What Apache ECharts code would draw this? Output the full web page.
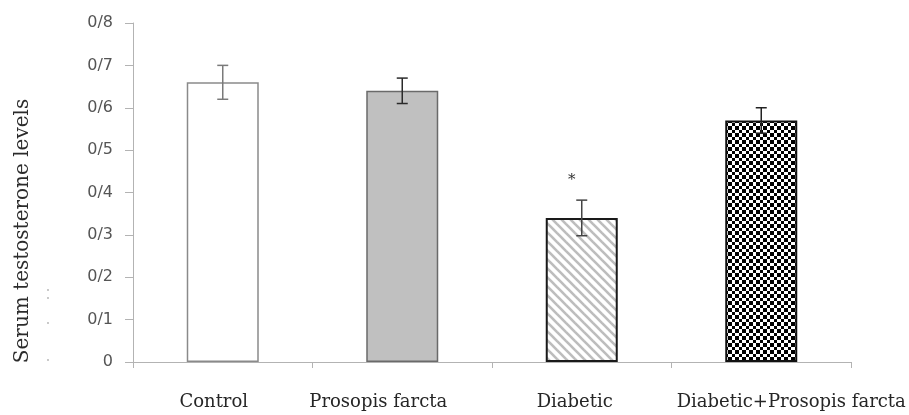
<!DOCTYPE html>
<html>
<head>
<meta charset="utf-8">
<script src="https://cdn.jsdelivr.net/npm/echarts@6/dist/echarts.min.js"></script>
<style>
  html, body { margin: 0; padding: 0; background: #fff; }
  #chart { width: 909px; height: 415px; }
</style>
</head>
<body>
<div id="chart"></div>
<script>
// data
const categories = ['Control', 'Prosopis farcta', 'Diabetic', 'Diabetic+Prosopis farcta']
const means = [0.66, 0.64, 0.34, 0.57]
const errors = [0.04, 0.03, 0.042, 0.03]
const marks = ['', '', '*', '']
const yTickLabels = ['0', '0/1', '0/2', '0/3', '0/4', '0/5', '0/6', '0/7', '0/8']

// layout / style
const labelShift = [-9, -24, -7, 30]
const borderColors = ['#8a8a8a', '#6a6a6a', '#1a1a1a', '#111111']
const errColors = ['#7a7a7a', '#2a2a2a', '#444444', '#222222']

function hatchPattern() {
  const s = 9
  const c = document.createElement('canvas')
  c.width = s
  c.height = s
  const ctx = c.getContext('2d')
  ctx.fillStyle = '#fff'
  ctx.fillRect(0, 0, s, s)
  ctx.strokeStyle = '#bdbdbd'
  ctx.lineWidth = 2.6
  for (let k = -1; k <= 1; k++) {
    ctx.beginPath()
    ctx.moveTo(k * s - 1, -1)
    ctx.lineTo(k * s + s + 1, s + 1)
    ctx.stroke()
  }
  return c
}

function checkerPattern() {
  const c = document.createElement('canvas')
  c.width = 14
  c.height = 14
  const ctx = c.getContext('2d')
  ctx.fillStyle = '#fff'
  ctx.fillRect(0, 0, 14, 14)
  ctx.fillStyle = '#000'
  const cells = [[0, 4], [4, 3], [7, 4], [11, 3]]
  for (let r = 0; r < 4; r++) {
    for (let q = 0; q < 4; q++) {
      if ((r + q) % 2 === 0) {
        ctx.fillRect(cells[q][0], cells[r][0], cells[q][1], cells[r][1])
      }
    }
  }
  return c
}

const fills = ['#ffffff', '#c0c0c0', { image: hatchPattern(), repeat: 'repeat' }, { image: checkerPattern(), repeat: 'repeat' }]

const chart = echarts.init(document.getElementById('chart'))

const option = {
  animation: false,
  backgroundColor: '#fff',
  grid: { left: 133, right: 58, top: 23, bottom: 53 },
  xAxis: {
    type: 'category',
    data: categories.map((c, i) => ({
      value: c,
      textStyle: labelShift[i] < 0
        ? { padding: [0, -2 * labelShift[i], 0, 0] }
        : { padding: [0, 0, 0, 2 * labelShift[i]] }
    })),
    axisLine: { lineStyle: { color: '#b3b3b3', width: 1 } },
    axisTick: { show: true, length: 6, lineStyle: { color: '#b3b3b3' } },
    axisLabel: {
      margin: 31,
      fontFamily: 'DejaVu Serif',
      fontSize: 18,
      color: '#262626',
      interval: 0
    }
  },
  yAxis: {
    type: 'value',
    min: 0,
    max: 0.8,
    interval: 0.1,
    axisLine: { show: true, lineStyle: { color: '#b3b3b3', width: 1 } },
    axisTick: { show: true, length: 8, lineStyle: { color: '#b3b3b3' } },
    splitLine: { show: false },
    axisLabel: {
      margin: 20,
      fontFamily: 'DejaVu Sans',
      fontSize: 16,
      color: '#555555',
      formatter: (v, idx) => yTickLabels[idx]
    }
  },
  series: [
    {
      type: 'bar',
      barWidth: 72,
      data: means.map((v, i) => ({
        value: v,
        itemStyle: {
          color: fills[i],
          borderColor: borderColors[i],
          borderWidth: i < 2 ? 1.5 : 2
        }
      }))
    },
    {
      type: 'custom',
      z: 5,
      data: means.map((v, i) => [i, v, errors[i]]),
      renderItem: function(params, api) {
        const i = api.value(0)
        const v = api.value(1)
        const e = api.value(2)
        const top = api.coord([i, v + e])
        const bot = api.coord([i, v - e])
        const hw = 5.5
        const st = { stroke: errColors[i], lineWidth: 1.5 }
        const children = [
          { type: 'line', shape: { x1: top[0], y1: top[1], x2: bot[0], y2: bot[1] }, style: st },
          { type: 'line', shape: { x1: top[0] - hw, y1: top[1], x2: top[0] + hw, y2: top[1] }, style: st },
          { type: 'line', shape: { x1: bot[0] - hw, y1: bot[1], x2: bot[0] + hw, y2: bot[1] }, style: st }
        ]
        if (marks[i]) {
          children.push({
            type: 'text',
            style: {
              text: marks[i],
              x: top[0] - 10,
              y: top[1] - 20,
              align: 'center',
              verticalAlign: 'middle',
              fontFamily: 'DejaVu Serif',
              fontSize: 15,
              fill: '#333'
            }
          })
        }
        return { type: 'group', children: children }
      }
    }
  ],
  graphic: [
    {
      type: 'text',
      x: 23,
      y: 231,
      rotation: Math.PI / 2,
      style: {
        text: 'Serum testosterone levels',
        align: 'center',
        verticalAlign: 'middle',
        fontFamily: 'DejaVu Serif',
        fontSize: 20,
        fill: '#2b2b2b'
      }
    },
    { type: 'circle', shape: { cx: 48, cy: 290, r: 0.9 }, style: { fill: '#b0b0b0' } },
    { type: 'circle', shape: { cx: 48, cy: 298, r: 0.9 }, style: { fill: '#b0b0b0' } },
    { type: 'circle', shape: { cx: 48, cy: 323, r: 0.9 }, style: { fill: '#b0b0b0' } },
    { type: 'circle', shape: { cx: 48, cy: 360, r: 0.9 }, style: { fill: '#b0b0b0' } }
  ]
}

chart.setOption(option)
</script>
</body>
</html>
